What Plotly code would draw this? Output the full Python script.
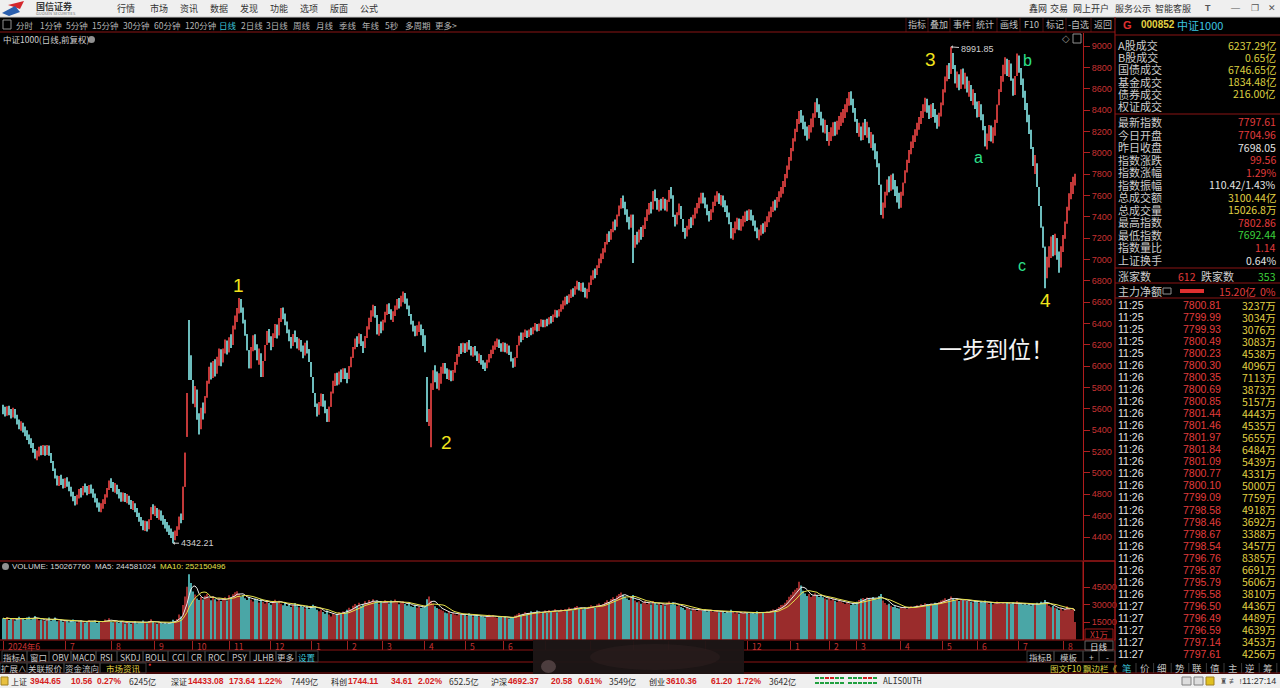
import pandas as pd
import plotly.graph_objects as go

W, H = 1280, 688
CJK = "Noto Sans CJK SC"
NUM = "Liberation Sans"

# 中证1000 daily closes, 10 bars per line (Jun 2024 -> Aug 2026)
close = [
    5590, 5560, 5600, 5570, 5540, 5590, 5520, 5480, 5430, 5450,
    5400, 5380, 5330, 5300, 5260, 5210, 5150, 5180, 5220, 5200,
    5230, 5190, 5240, 5180, 5100, 5030, 4960, 4900, 4950, 4920,
    4880, 4930, 4900, 4850, 4800, 4760, 4720, 4780, 4830, 4800,
    4870, 4850, 4820, 4870, 4830, 4790, 4740, 4700, 4660, 4690,
    4730, 4780, 4850, 4920, 4890, 4850, 4870, 4820, 4790, 4760,
    4790, 4750, 4770, 4720, 4690, 4700, 4650, 4610, 4560, 4530,
    4490, 4520, 4480, 4560, 4680, 4640, 4650, 4600, 4620, 4580,
    4540, 4510, 4480, 4450, 4420, 4390, 4440, 4470, 4590, 4560,
    4870, 5190, 5750, 5900, 5870, 5650, 5780, 5500, 5420, 5600,
    5560, 5720, 5850, 5980, 5930, 6010, 5960, 6060, 6110, 6050,
    6150, 6220, 6130, 6270, 6200, 6380, 6440, 6520, 6600, 6530,
    6420, 6300, 6150, 5980, 6180, 6250, 6200, 6060, 6120, 5900,
    6050, 6200, 6330, 6240, 6190, 6300, 6360, 6290, 6450, 6510,
    6480, 6400, 6330, 6250, 6190, 6300, 6260, 6180, 6230, 6150,
    6120, 6200, 6160, 6040, 5900, 5750, 5620, 5560, 5650, 5720,
    5640, 5600, 5480, 5620, 5760, 5850, 5900, 5860, 5920, 5900,
    5960, 5900, 5880, 6000, 6080, 6180, 6240, 6220, 6300, 6190,
    6170, 6280, 6360, 6440, 6500, 6540, 6480, 6300, 6380, 6350,
    6420, 6500, 6560, 6520, 6450, 6480, 6560, 6600, 6580, 6640,
    6660, 6610, 6560, 6480, 6400, 6350, 6310, 6360, 6380, 6300,
    6240, 6180, 5480, 5560, 5780, 5960, 5900, 5840, 5870, 5960,
    6000, 5960, 5900, 5940, 5880, 5950, 6030, 6100, 6180, 6150,
    6200, 6140, 6220, 6180, 6110, 6160, 6130, 6060, 6090, 6030,
    6000, 5990, 6050, 6100, 6130, 6180, 6210, 6230, 6190, 6160,
    6200, 6150, 6180, 6120, 6060, 6000, 6080, 6200, 6280, 6260,
    6300, 6320, 6280, 6340, 6310, 6360, 6380, 6340, 6390, 6420,
    6380, 6420, 6400, 6450, 6420, 6480, 6510, 6470, 6530, 6560,
    6590, 6630, 6610, 6660, 6700, 6680, 6740, 6780, 6720, 6760,
    6720, 6660, 6700, 6780, 6830, 6880, 6860, 6940, 6990, 7030,
    7080, 7150, 7230, 7200, 7270, 7340, 7310, 7420, 7490, 7560,
    7520, 7440, 7380, 7300, 7420, 7120, 7220, 7180, 7260, 7230,
    7300, 7380, 7450, 7500, 7470, 7640, 7560, 7480, 7530, 7500,
    7560, 7470, 7540, 7650, 7600, 7400, 7330, 7440, 7500, 7380,
    7260, 7230, 7300, 7360, 7330, 7410, 7460, 7500, 7560, 7590,
    7560, 7500, 7430, 7380, 7460, 7520, 7580, 7600, 7540, 7570,
    7520, 7480, 7420, 7350, 7200, 7280, 7320, 7350, 7310, 7340,
    7380, 7420, 7400, 7440, 7390, 7340, 7290, 7210, 7250, 7300,
    7280, 7330, 7380, 7420, 7470, 7520, 7500, 7570, 7610, 7650,
    7700, 7780, 7860, 7940, 8030, 8120, 8210, 8300, 8360, 8320,
    8250, 8200, 8160, 8230, 8280, 8330, 8470, 8420, 8360, 8280,
    8230, 8260, 8110, 8150, 8200, 8240, 8210, 8260, 8300, 8330,
    8360, 8420, 8470, 8540, 8480, 8400, 8310, 8190, 8240, 8120,
    8280, 8200, 8230, 8100, 8140, 8050, 7980, 7900, 7700, 7420,
    7500, 7620, 7730, 7680, 7760, 7700, 7640, 7580, 7520, 7600,
    7720, 7830, 7920, 8010, 8080, 8130, 8190, 8250, 8300, 8360,
    8420, 8480, 8400, 8360, 8420, 8380, 8310, 8270, 8350, 8460,
    8580, 8700, 8790, 8740, 8900, 8820, 8650, 8720, 8600, 8780,
    8650, 8700, 8580, 8620, 8500, 8540, 8430, 8380, 8440, 8320,
    8250, 8060, 8150, 8220, 8140, 8190, 8280, 8450, 8590, 8700,
    8790, 8840, 8760, 8820, 8690, 8540, 8720, 8880, 8780, 8650,
    8560, 8420, 8330, 8200, 8050, 7880, 7900, 7680, 7500, 7300,
    7120, 6850, 7000, 7050, 7180, 7080, 7200, 7000, 6950, 7100,
    7200, 7350, 7480, 7600, 7690, 7698.05, 7797.61,
]
first_open = 5600
# typical high-low span of the bars in each stretch of 10 days (index points)
block_range = [90, 90, 95, 90, 85, 90, 85, 95, 90, 200,
               160, 130, 150, 130, 110, 120, 120, 100, 110, 100,
               100, 160, 100, 90, 80, 90, 70, 70, 80, 90,
               100, 120, 110, 110, 100, 100, 110, 100, 100, 120,
               130, 130, 130, 150, 150, 120, 130, 150, 150, 150,
               160, 180, 200, 160]
# bars whose open / high / low stand away from the neighbouring closes
open_fix = {92: 5340, 93: 6380, 94: 6100, 212: 5900, 214: 5300, 536: 7704.96}
high_fix = {93: 6433, 118: 6640, 214: 5840, 474: 8991.85, 507: 8930, 536: 7802.86}
low_fix = {85: 4342.21, 93: 5870, 214: 5240, 315: 6966, 521: 6730, 536: 7692.44}

# daily volume, x1万 shares
volume = [
    18200, 17600, 19100, 16800, 17900, 18500, 16200, 17300, 19400, 18100,
    17500, 16900, 18800, 19600, 17200, 18400, 20100, 17800, 16500, 17100,
    16400, 15800, 17600, 18900, 16100, 17400, 18800, 15600, 16300, 17000,
    15200, 16600, 15900, 14800, 16200, 17100, 15500, 14600, 15800, 16400,
    15100, 14300, 15700, 16800, 14900, 15400, 16300, 14100, 15600, 14800,
    15900, 17200, 16100, 18300, 15400, 14700, 16500, 15200, 14400, 15800,
    14900, 13800, 15300, 14200, 13600, 14800, 15600, 13900, 14500, 15100,
    16200, 14700, 13900, 15800, 17400, 15100, 14300, 13600, 14900, 14200,
    13800, 14600, 13400, 14100, 15300, 16900, 15800, 17600, 21500, 19800,
    29500, 36800, 45200, 56000, 48500, 41200, 38600, 35100, 33800, 36400,
    34200, 37500, 39100, 35800, 33600, 36900, 34500, 32700, 35300, 33100,
    34800, 36200, 33500, 37900, 35600, 38800, 40500, 41300, 39200, 36700,
    38100, 35400, 33800, 36500, 34100, 32600, 35200, 33900, 31800, 34700,
    32400, 30900, 33600, 31200, 29800, 32500, 34100, 31700, 33300, 30600,
    29400, 31800, 28700, 30200, 27900, 29600, 31300, 28400, 27600, 29100,
    27800, 26500, 28900, 26100, 27300, 29800, 28600, 25400, 24200, 25800,
    23600, 22100, 24800, 21500, 19800, 22600, 20900, 21800, 23400, 22200,
    24100, 22800, 25600, 27300, 26200, 28900, 30400, 29100, 31600, 28800,
    30500, 32800, 31200, 33900, 32100, 34600, 31800, 33200, 30700, 32400,
    31500, 33700, 32200, 30800, 33400, 31900, 34200, 32600, 30300, 31700,
    32800, 30500, 29100, 31400, 28600, 27900, 29800, 27300, 28500, 26900,
    27600, 28900, 34500, 36800, 33200, 30600, 28400, 27100, 26200, 25400,
    24600, 23100, 22400, 23800, 21900, 22700, 21400, 20800, 22300, 21600,
    20900, 21800, 20200, 22500, 21100, 19800, 20600, 21300, 19500, 20400,
    19700, 18900, 20300, 21200, 19400, 20800, 19100, 18600, 20100, 19300,
    18800, 19900, 18400, 17900, 19200, 18600, 20500, 21400, 22800, 21300,
    22100, 23400, 21800, 22900, 24200, 22600, 23800, 24900, 23100, 22400,
    23600, 24800, 22900, 25300, 23700, 24600, 25900, 23400, 24700, 25800,
    24300, 26100, 25200, 27400, 26600, 25100, 27900, 28800, 26400, 27500,
    25900, 27200, 26300, 28100, 29400, 28600, 27300, 29900, 30800, 29200,
    30400, 31900, 33600, 32100, 34800, 36200, 33900, 37500, 39100, 40300,
    38600, 36900, 35200, 33800, 35600, 38200, 33400, 31900, 32800, 30700,
    31600, 32900, 30400, 31800, 29900, 33100, 31200, 30100, 31400, 29600,
    30800, 29200, 31500, 32600, 30300, 31900, 30100, 28700, 29500, 27800,
    26900, 25600, 27300, 26100, 24800, 26500, 25300, 24400, 26000, 25100,
    24600, 25800, 23900, 24700, 25400, 23600, 24300, 25100, 23300, 24000,
    23500, 22800, 24100, 23200, 25600, 23900, 22600, 23400, 22100, 23000,
    22400, 23700, 22900, 21800, 22600, 23500, 22200, 24300, 23100, 22500,
    23300, 22700, 24100, 23600, 24900, 25700, 24200, 26300, 27800, 29500,
    29800, 31500, 33900, 36700, 38400, 40900, 42600, 44100, 49500, 46200,
    41800, 39500, 37200, 38900, 36400, 37800, 39600, 38100, 36500, 37300,
    36200, 35100, 34300, 35800, 33600, 34900, 33200, 32100, 33800, 32500,
    31600, 30400, 31900, 30800, 29600, 31200, 30100, 32400, 33800, 34900,
    35600, 34200, 36100, 35300, 34700, 36500, 35100, 34400, 37200, 38900,
    33500, 31200, 29800, 30600, 28900, 27800, 28400, 27100, 26600, 27900,
    26800, 27500, 26200, 27900, 28600, 27300, 28100, 29400, 28800, 30200,
    29600, 31100, 30400, 29200, 30800, 29900, 31500, 30700, 32200, 33400,
    34100, 35300, 33800, 34600, 36900, 35200, 33700, 34900, 33100, 34300,
    33600, 34800, 32900, 33700, 32400, 31800, 33100, 32300, 31500, 32600,
    31900, 33400, 31200, 30700, 31800, 30300, 31100, 32500, 31700, 30900,
    31600, 30800, 32100, 31300, 30500, 31900, 30200, 32800, 31400, 30700,
    30100, 31200, 29600, 30800, 29200, 30400, 29800, 31500, 30600, 32300,
    31400, 33800, 30500, 28900, 27600, 28700, 27300, 26500, 25300, 27100,
    24900, 26060, 28400, 26900, 25600, 26363, 15027,
]

month_text = ["2024年6", "7", "8", "9", "10", "11", "12", "1", "2", "3", "4", "5", "6",
              "7", "8", "9", "10", "11", "12", "1", "2", "3", "4", "5", "6", "7", "8"]
month_pos = [0, 31, 54, 75.5, 94.5, 113, 133.5, 154, 172, 189.5, 210.5, 231, 250,
             271, 293.5, 315, 332.5, 351, 372, 393.5, 413, 426.5, 448.5, 469.5, 487, 507.5, 530]

price_ticks = list(range(4400, 9001, 200))
vol_ticks = [15000, 30000, 45000]

# wave marks: (text, bar index, price level, colour, size)
waves = [
    ("1", 117.5, 6761, "#f2e41c", 19), ("2", 221.5, 5281, "#f2e41c", 19),
    ("3", 463.5, 8869, "#f2e41c", 19), ("4", 521, 6620, "#f2e41c", 19),
    ("a", 487.5, 7951, "#2ee08c", 16), ("b", 512, 8860, "#2ee08c", 16),
    ("c", 509.5, 6948, "#2ee08c", 16),
]

quote_top = [("A股成交", "6237.29亿"), ("B股成交", "0.65亿"), ("国债成交", "6746.65亿"),
             ("基金成交", "1834.48亿"), ("债券成交", "216.00亿"), ("权证成交", "")]
quote_mid = [("最新指数", "7797.61", "r"), ("今日开盘", "7704.96", "r"), ("昨日收盘", "7698.05", "w"),
             ("指数涨跌", "99.56", "r"), ("指数涨幅", "1.29%", "r"), ("指数振幅", "110.42/1.43%", "w"),
             ("总成交额", "3100.44亿", "y"), ("总成交量", "15026.8万", "y"), ("最高指数", "7802.86", "r"),
             ("最低指数", "7692.44", "g"), ("指数量比", "1.14", "r"), ("上证换手", "0.64%", "w")]
tick_time = ["11:25"] * 5 + ["11:26"] * 20 + ["11:27"] * 5
tick_price = ["7800.81", "7799.99", "7799.93", "7800.49", "7800.23", "7800.30", "7800.35",
              "7800.69", "7800.85", "7801.44", "7801.46", "7801.97", "7801.84", "7801.09",
              "7800.77", "7800.10", "7799.09", "7798.58", "7798.46", "7798.67", "7798.54",
              "7796.76", "7795.87", "7795.79", "7795.58", "7796.50", "7796.49", "7796.59",
              "7797.14", "7797.61"]
tick_vol = ["3237", "3034", "3076", "3083", "4538", "4096", "7113", "3873", "5157", "4443",
            "4535", "5655", "6484", "5439", "4331", "5000", "7759", "4918", "3692", "3388",
            "3457", "8385", "6691", "5606", "3810", "4436", "4489", "4639", "3453", "4256"]

status = [("上证", "3944.65", "10.56", "0.27%", "6245亿"),
          ("深证", "14433.08", "173.64", "1.22%", "7449亿"),
          ("科创", "1744.11", "34.61", "2.02%", "652.5亿"),
          ("沪深", "4692.37", "20.58", "0.61%", "3549亿"),
          ("创业", "3610.36", "61.20", "1.72%", "3642亿")]

RED, TEAL = "#c23838", "#6cbcbc"
VRED, VTEAL = "#9a2c2c", "#4aa6a6"
LINE = "#8a1414"
COL = {"r": "#e23c3c", "w": "#e4e4e4", "y": "#e2d244", "g": "#3cd23c"}
SMUDGE = (533, 744)  # blurred strip over the lower left-centre of the screen

n = len(close)
idx = list(range(n))
opens = [first_open] + close[:-1]
for k, v in open_fix.items():
    opens[k] = v
highs, lows = [], []
for i, (o, c) in enumerate(zip(opens, close)):
    wick = max(0, (block_range[i // 10] - abs(c - o)) / 2)
    highs.append(max(o, c) + wick)
    lows.append(min(o, c) - wick)
for k, v in high_fix.items():
    highs[k] = v
for k, v in low_fix.items():
    lows[k] = v
up = [c >= o for o, c in zip(opens, close)]
ma5 = pd.Series(volume).rolling(5, min_periods=1).mean()
ma10 = pd.Series(volume).rolling(10, min_periods=1).mean()
colors = [RED if u else TEAL for u in up]

fig = go.Figure()
fig.add_trace(go.Bar(x=idx, y=[h - l for h, l in zip(highs, lows)], base=lows, width=0.45,
                     marker=dict(color=colors, line_width=0), xaxis="x", yaxis="y"))
fig.add_trace(go.Bar(x=idx, y=[max(abs(c - o), 10) for o, c in zip(opens, close)],
                     base=[min(o, c) for o, c in zip(opens, close)], width=0.7,
                     marker=dict(color=colors, line_width=0), xaxis="x", yaxis="y"))
fig.add_trace(go.Bar(x=idx, y=volume, width=0.62,
                     marker=dict(color=[VRED if u else VTEAL for u in up], line_width=0),
                     xaxis="x2", yaxis="y2"))
fig.add_trace(go.Scatter(x=idx, y=ma5, mode="lines", line=dict(color="#e8e8e8", width=1),
                         xaxis="x2", yaxis="y2"))
fig.add_trace(go.Scatter(x=idx, y=ma10, mode="lines", line=dict(color="#e6e04a", width=1),
                         xaxis="x2", yaxis="y2"))

axis_font = dict(family=NUM, size=9, color="#c83232")
fig.update_layout(
    template="none", width=W, height=H, margin=dict(l=0, r=0, t=0, b=0),
    paper_bgcolor="#000000", plot_bgcolor="#000000", showlegend=False, barmode="overlay",
    xaxis=dict(domain=[0, 1083 / W], range=[-1.5, 540], visible=False, anchor="y"),
    yaxis=dict(domain=[1 - 560 / H, 1 - 33 / H], range=[4184.8, 9121.8], side="right", anchor="x",
               tickvals=price_ticks, ticktext=[str(v) for v in price_ticks], ticks="outside",
               ticklen=6, tickcolor="#b02020", tickfont=axis_font, showgrid=False, zeroline=False,
               showline=True, linecolor="#b01c1c", linewidth=1, automargin=False),
    xaxis2=dict(domain=[0, 1083 / W], range=[-1.5, 540], anchor="y2", tickvals=month_pos,
                ticks="outside", ticklen=9, tickcolor="#a02020", showticklabels=False,
                showgrid=False, zeroline=False, showline=False, automargin=False),
    yaxis2=dict(domain=[1 - 640 / H, 1 - 562 / H], range=[-430, 66430], side="right", anchor="x2",
                tickvals=vol_ticks, ticktext=[str(v) for v in vol_ticks], ticks="outside",
                ticklen=6, tickcolor="#b02020", tickfont=axis_font, showgrid=False,
                zeroline=False, showline=True, linecolor="#b01c1c", automargin=False),
)


def text(x, y, s, color="#c8c8c8", size=11, anchor="left", family=CJK):
    fig.add_annotation(x=x / W, y=1 - y / H, xref="paper", yref="paper", text=s,
                       showarrow=False, xanchor=anchor, yanchor="middle", borderpad=0,
                       font=dict(family=family, size=size, color=color))


def box(x0, y0, x1, y1, fill="rgba(0,0,0,0)", line=None, layer="above"):
    fig.add_shape(type="rect", xref="paper", yref="paper", x0=x0 / W, x1=x1 / W,
                  y0=1 - y1 / H, y1=1 - y0 / H, fillcolor=fill, layer=layer,
                  line=dict(color=line or "rgba(0,0,0,0)", width=1 if line else 0))


def seg(x0, y0, x1, y1, color=LINE, width=1):
    fig.add_shape(type="line", xref="paper", yref="paper", x0=x0 / W, y0=1 - y0 / H,
                  x1=x1 / W, y1=1 - y1 / H, line=dict(color=color, width=width))


def poly(pts, fill):
    d = "M " + " L ".join(f"{x / W:.5f},{1 - y / H:.5f}" for x, y in pts) + " Z"
    fig.add_shape(type="path", xref="paper", yref="paper", path=d, fillcolor=fill,
                  line=dict(width=0))


# top menu bar
box(0, 0, 1280, 17, fill="#efefef")
seg(0, 17, 1280, 17, "#c8c8c8")
poly([(8, 5), (24, 1), (20, 9)], "#d4262c")
poly([(2, 13), (15, 6), (20, 12), (9, 16)], "#2a5fae")
text(35, 6, "<b>国信证券</b>", "#3a3a3a", 9)
text(35, 13.5, "GUOSEN SECURITIES", "#707070", 4)
for s, x in [("行情", 126), ("市场", 159), ("资讯", 189), ("数据", 219), ("发现", 249),
             ("功能", 279), ("选项", 309), ("版面", 339), ("公式", 369)]:
    text(x, 8, s, "#333333", 9, "center")
for s, x in [("鑫网", 1038), ("交易", 1059), ("网上开户", 1091), ("服务公示", 1133), ("智能客服", 1173)]:
    text(x, 8, s, "#333333", 9, "center")
for s, x in [("<b>T</b>", 1208), ("—", 1235), ("❐", 1255), ("✕", 1272)]:
    text(x, 8, s, "#555555", 9, "center", NUM)

# period toolbar
box(3, 20, 11, 29, line="#909090")
for s, x in [("分时", 25), ("1分钟", 51), ("5分钟", 77), ("15分钟", 105), ("30分钟", 136),
             ("60分钟", 167), ("120分钟", 200), ("日线", 228), ("2日线", 252), ("3日线", 277),
             ("周线", 302), ("月线", 325), ("季线", 348), ("年线", 371), ("5秒", 392),
             ("多周期", 418), ("更多>", 446)]:
    text(x, 25, s, "#3cc4d8" if s == "日线" else "#b4b4b4", 8.5, "center")
for s, x in [("指标", 917), ("叠加", 939), ("事件", 962), ("统计", 985), ("画线", 1009),
             ("F10", 1031), ("标记", 1055), ("-自选", 1078), ("返回", 1103)]:
    text(x, 25, s, "#c0c0c0", 9, "center")
for x in [906, 928, 950, 973, 997, 1020, 1043, 1066, 1091]:
    seg(x, 18, x, 32, "#4a1010")
seg(0, 32, 1115, 32, LINE)
seg(1115, 17, 1115, 674, "#a01818")
text(1122, 25, "<b>G</b>", "#e03030", 11, family=NUM)
text(1140, 25, "<b>000852</b>", "#e2d244", 10, family=NUM)
text(1176, 25, "中证1000", "#3cc4e0", 11)
seg(1115, 35, 1280, 35, LINE)

# chart header
text(2, 39, "中证1000(日线,前复权)", "#d0d0d0", 8.5)
fig.add_shape(type="circle", xref="paper", yref="paper", x0=88 / W, x1=95 / W,
              y0=1 - 43 / H, y1=1 - 36 / H, fillcolor="#909090", line_width=0)
text(1066, 39, "◇", "#909090", 10, "center", NUM)
box(1073, 34, 1081, 43, line="#909090")

for s, i, p, c, sz in waves:
    fig.add_annotation(x=i, y=p, xref="x", yref="y", text=s, showarrow=False,
                       font=dict(family=NUM, size=sz, color=c))
fig.add_annotation(x=496.5, y=6171, xref="x", yref="y", text="一步到位！", showarrow=False,
                   font=dict(family=CJK, size=23, color="#f4f4f4"))
fig.add_annotation(x=474, y=8991.85, xref="x", yref="y", text="8991.85", showarrow=True,
                   ax=26, ay=2, arrowcolor="#d0d0d0", arrowwidth=1, arrowhead=1, arrowsize=0.6,
                   font=dict(family=NUM, size=9, color="#d0d0d0"))
fig.add_annotation(x=85, y=4342.21, xref="x", yref="y", text="4342.21", showarrow=True,
                   ax=24, ay=0, arrowcolor="#d0d0d0", arrowwidth=1, arrowhead=1, arrowsize=0.6,
                   font=dict(family=NUM, size=9, color="#d0d0d0"))

# panel borders
seg(0, 561, 1115, 561, "#a01818")
seg(0, 640, 1083, 640, "#a01818")
seg(0, 650, 1115, 650, LINE)
seg(0, 662, 1115, 662, LINE)
seg(0, 673, 1280, 673, LINE)
box(1083, 561, 1115, 640, line="#a01818")
box(1085, 629, 1113, 639, line="#a01818")
text(1099, 634, "X1万", "#c83232", 8.5, "center")

# volume header
fig.add_shape(type="circle", xref="paper", yref="paper", x0=2 / W, x1=9 / W,
              y0=1 - 570 / H, y1=1 - 563 / H, fillcolor="#909090", line_width=0)
text(11, 566, "VOLUME: 150267760", "#d8d8d8", 8, family=NUM)
text(94, 566, "MA5: 244581024", "#d8d8d8", 8, family=NUM)
text(159, 566, "MA10: 252150496", "#e6e04a", 8, family=NUM)

for s, i in zip(month_text, month_pos):
    if SMUDGE[0] - 4 < 3 + 2 * i < SMUDGE[1]:
        continue  # hidden under the smear in the screenshot
    fig.add_annotation(x=i + 1.3, y=1 - 645.5 / H, xref="x2", yref="paper", text=s,
                       showarrow=False, xanchor="left", yanchor="middle",
                       font=dict(family=CJK, size=8.5, color="#c83232"))

# indicator tabs
tabs = [("指标A", 2, 27), ("窗口", 27, 49), ("OBV", 49, 71), ("MACD", 71, 96), ("RSI", 96, 117),
        ("SKDJ", 117, 143), ("BOLL", 143, 168), ("CCI", 168, 188), ("CR", 188, 205),
        ("ROC", 205, 228), ("PSY", 228, 250), ("JLHB", 250, 276), ("更多", 276, 296),
        ("设置", 296, 318)]
for s, x0, x1 in tabs:
    box(x0, 651, x1, 662, line="#3a3a3a")
    text((x0 + x1) / 2, 656.5, s, "#3cc4d8" if s == "设置" else "#c8c8c8", 8.5, "center")
for s, x0, x1 in [("扩展∧", 0, 27), ("关联报价", 27, 64), ("资金流向", 64, 100), ("市场资讯", 100, 146)]:
    box(x0, 663, x1, 673, line="#3a3a3a")
    text((x0 + x1) / 2, 668, s, "#e2d244" if s == "市场资讯" else "#c8c8c8", 8.5, "center")
text(147, 664, "●", "#e03030", 5, family=NUM)
for s, x0, x1 in [("指标B", 1027, 1054), ("模板", 1054, 1083), ("+", 1083, 1099), ("-", 1099, 1115)]:
    box(x0, 651, x1, 662, line="#3a3a3a")
    text((x0 + x1) / 2, 656.5, s, "#c8c8c8", 8.5, "center")
box(1085, 641, 1113, 650, line="#606060")
text(1099, 645.5, "日线", "#e0e0e0", 8.5, "center")
text(1049, 668, "图文F10", "#d8d040", 8.5)
text(1082, 668, "飘边栏《", "#d8d040", 8.5)

# blurred watermark patch
box(SMUDGE[0], 640, SMUDGE[1], 674, fill="rgba(30,22,22,0.95)")
fig.add_shape(type="circle", xref="paper", yref="paper", x0=541 / W, x1=556 / W,
              y0=1 - 673 / H, y1=1 - 660 / H, fillcolor="rgba(150,122,124,0.4)", line_width=0)
fig.add_shape(type="circle", xref="paper", yref="paper", x0=590 / W, x1=720 / W,
              y0=1 - 670 / H, y1=1 - 644 / H, fillcolor="rgba(55,36,36,0.35)", line_width=0)

# right quote panel
for k, (lab, val) in enumerate(quote_top):
    y = 45 + 12.2 * k
    text(1117, y, lab, "#cccccc", 11)
    if val:
        text(1277, y, val, "#dcd040", 10.5, "right")
seg(1115, 114, 1280, 114, LINE)
for k, (lab, val, c) in enumerate(quote_mid):
    y = 122 + 12.55 * k
    text(1117, y, lab, "#cccccc", 11)
    text(1277, y, val, COL[c], 10.5, "right")
seg(1115, 268, 1280, 268, LINE)
text(1117, 276, "涨家数", "#cccccc", 11)
text(1197, 276, "612", COL["r"], 10.5, "right")
text(1200, 276, "跌家数", "#cccccc", 11)
text(1277, 276, "353", COL["g"], 10.5, "right")
seg(1115, 283, 1280, 283, LINE)
text(1117, 291, "主力净额", "#cccccc", 11)
box(1163, 288, 1171, 294, line="#909090")
box(1180, 289, 1204, 293, fill="#e03030")
text(1257, 291, "15.20亿", COL["r"], 10.5, "right")
text(1277, 291, "0%", COL["r"], 10.5, "right")
seg(1115, 298, 1280, 298, LINE)
for k in range(len(tick_time)):
    y = 305 + 12.03 * k
    text(1117, y, tick_time[k], "#e4e4e4", 10.5, family=NUM)
    text(1222, y, tick_price[k], COL["r"], 10.5, "right", NUM)
    text(1277, y, tick_vol[k] + "万", COL["y"], 10.5, "right")
for k, s in enumerate(["笔", "价", "细", "势", "联", "值", "主", "逆", "筹"]):
    x = 1127 + 17.6 * k
    text(x, 668, s, "#3cc4d8" if k == 0 else "#c0c0c0", 9.5, "center")
    seg(x + 9, 663, x + 9, 673, "#3a3a3a")

# status bar
box(0, 674, 1280, 688, fill="#efefef")
box(1, 677, 8, 685, fill="#e8c040", line="#a08020")
for (name, v, d, pct, amt), xs in zip(status, [(10, 29, 70, 96, 128), (170, 187, 228, 257, 290),
                                               (330, 347, 390, 417, 448), (490, 507, 550, 577, 608),
                                               (648, 665, 710, 736, 768)]):
    text(xs[0], 681, name, "#202020", 8)
    text(xs[1], 681, "<b>" + v + "</b>", "#d42020", 8.5, family=NUM)
    text(xs[2], 681, "<b>" + d + "</b>", "#d42020", 8.5, family=NUM)
    text(xs[3], 681, "<b>" + pct + "</b>", "#d42020", 8.5, family=NUM)
    text(xs[4], 681, amt, "#303030", 8.5)
for k in range(6):
    box(815 + 5 * k, 677, 819 + 5 * k, 679, fill="#d02020" if k in (2, 3) else "#20a040")
    box(815 + 5 * k, 682, 819 + 5 * k, 684, fill="#20a040")
for k in range(6):
    box(848 + 5 * k, 677, 852 + 5 * k, 679, fill="#d02020" if k in (3, 4) else "#20a040")
    box(848 + 5 * k, 682, 852 + 5 * k, 684, fill="#20a040")
text(882, 681, "ALISOUTH", "#303030", 8, family="DejaVu Sans Mono")
for x in [1182, 1194]:
    box(x, 677, x + 9, 685, fill="#dddddd", line="#808080")
box(1206, 677, 1214, 685, fill="#e0c020", line="#a08020")
text(1219, 681, "♜ ≢ !", "#505050", 8, family=NUM)
text(1277, 681, "11:27:14", "#303030", 9, "right", NUM)

fig.write_html("out.html", config={"displayModeBar": False},
               post_script="document.body.style.margin='0px';"
                           "document.body.style.overflow='hidden';")
